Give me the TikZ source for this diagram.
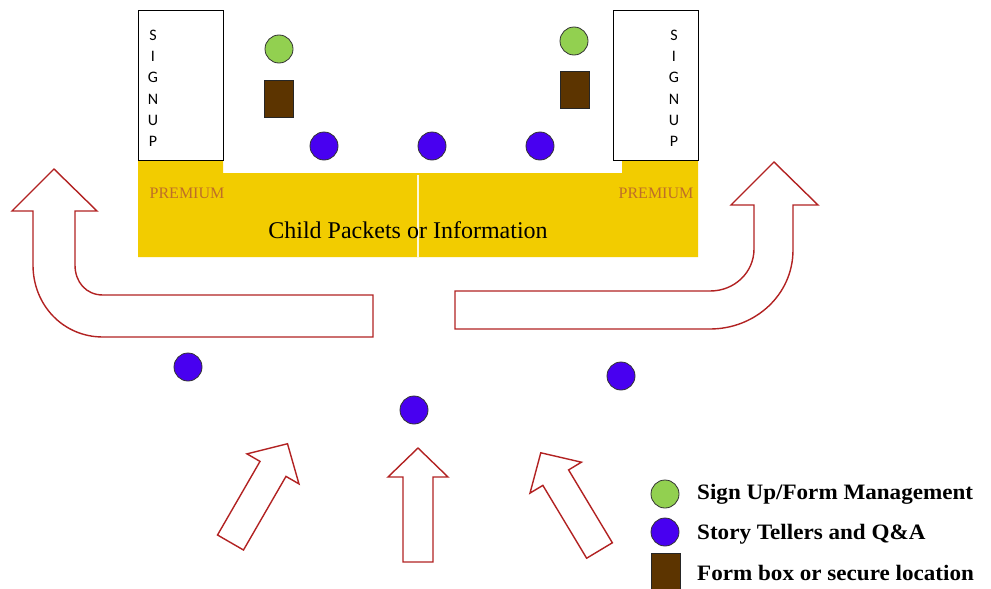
\documentclass[tikz,border=0pt]{standalone}
\usepackage{fontspec}
\setmainfont{Liberation Serif}
\newfontfamily\signfont{Carlito}
\definecolor{dotblue}{RGB}{72,0,240}
\definecolor{dotgreen}{RGB}{146,208,80}
\definecolor{boxbrown}{RGB}{92,52,0}
\definecolor{gold}{RGB}{242,204,0}
\definecolor{arrowred}{RGB}{178,34,34}
\definecolor{premcol}{RGB}{190,110,40}
\begin{document}
\begin{tikzpicture}[x=1pt,y=-1pt,
  bluedot/.style={circle,draw=black!80,line width=0.8pt,fill=dotblue,minimum size=28pt,inner sep=0pt},
  greendot/.style={circle,draw=black!80,line width=0.8pt,fill=dotgreen,minimum size=28pt,inner sep=0pt},
  formbox/.style={rectangle,draw=black!85,line width=0.8pt,fill=boxbrown,minimum width=29pt,minimum height=37pt,inner sep=0pt},
  signbox/.style={rectangle,draw=black,line width=1pt,fill=white,minimum width=85pt,minimum height=150pt,inner sep=0pt},
  blockarrow/.style={draw=arrowred,line width=1.4pt,fill=white,line join=miter},
  premium/.style={text=premcol,font=\fontsize{16}{16}\selectfont,inner sep=0pt},
  signletter/.style={font=\signfont\fontsize{16}{16}\selectfont,inner sep=0pt},
  legendtext/.style={anchor=west,font=\bfseries\fontsize{22}{22}\selectfont,inner sep=0pt}
]
\useasboundingbox (0,0) rectangle (991,589);
\fill[white] (0,0) rectangle (991,589);

% yellow area
\fill[gold] (138,160) -- (223,160) -- (223,173) -- (622,173) -- (622,160) -- (698,160) -- (698,257) -- (138,257) -- cycle;
\draw[white!85!gold,line width=2pt] (418,175) -- (418,257);

% signup boxes
\node[signbox] (sl) at (180.5,85) {};
\node[signbox] (sr) at (655.5,85) {};
\foreach \l/\yy in {S/35,I/56,G/77,N/99,U/120,P/141}{
  \node[signletter] (sl\l) at (153,\yy) {\l};
  \node[signletter] (sr\l) at (674,\yy) {\l};
}

\node[premium] (p1) at (187,193) {PREMIUM};
\node[premium] (p2) at (656,193) {PREMIUM};
\node[font=\fontsize{24}{24}\selectfont,inner sep=0pt] (cp) at (408,230) {Child Packets or Information};

% people
\node[greendot] (g1) at (279,49) {};
\node[greendot] (g2) at (574,41) {};
\node[formbox] (f1) at (278.5,98.5) {};
\node[formbox] (f2) at (574.5,89.5) {};
\node[bluedot] (b1) at (324,146) {};
\node[bluedot] (b2) at (432,146) {};
\node[bluedot] (b3) at (540,146) {};
\node[bluedot] (b4) at (188,367) {};
\node[bluedot] (b5) at (414,410) {};
\node[bluedot] (b6) at (621,376) {};

% bent arrows
\draw[blockarrow] (373,295) -- (103,295) .. controls (86,295) and (75,282) .. (75,265) -- (75,211) -- (97,211) -- (54,169) -- (12,211) -- (33,211) -- (33,265) .. controls (33,305) and (63,337) .. (103,337) -- (373,337) -- cycle;
\draw[blockarrow] (455,291) -- (710,291) .. controls (735,291) and (754,272) .. (754,249) -- (754,205) -- (731,205) -- (774,162) -- (818,205) -- (793,205) -- (793,250) .. controls (793,295) and (755,329) .. (710,329) -- (455,329) -- cycle;

% straight arrows
\foreach \cx/\cy/\ang in {230.5/542.5/-30, 418/562/0, 599.5/550.5/31}{
  \draw[blockarrow,shift={(\cx,\cy)},rotate=\ang] (-15,0) -- (-15,-85) -- (-30,-85) -- (0,-114) -- (30,-85) -- (15,-85) -- (15,0) -- cycle;
}

% legend
\node[greendot] (lg) at (665,494) {};
\node[bluedot] (lb) at (665,532) {};
\node[formbox,minimum height=36pt] (lf) at (665.5,571) {};
\node[legendtext] (t1) at (697,494) {\scalebox{1.05}[1]{Sign Up/Form Management}};
\node[legendtext] (t2) at (697,534) {\scalebox{1.05}[1]{Story Tellers and Q\&A}};
\node[legendtext] (t3) at (697,573) {\scalebox{1.05}[1]{Form box or secure location}};
\end{tikzpicture}
\end{document}
